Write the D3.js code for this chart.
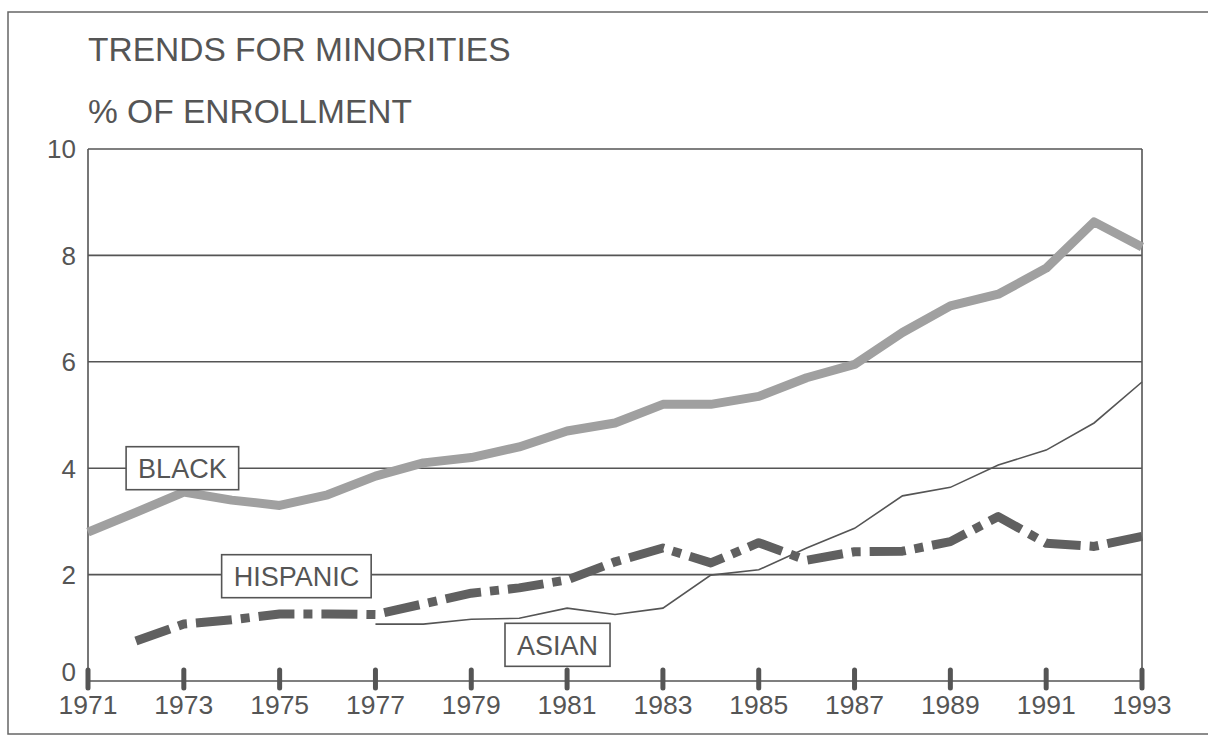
<!DOCTYPE html>
<html>
<head>
<meta charset="utf-8">
<script src="https://cdn.jsdelivr.net/npm/d3@7"></script>
<style>
  html, body { margin: 0; padding: 0; background: #fff; }
  svg { display: block; }
  text { font-family: "Liberation Sans", Arial, Helvetica, sans-serif; fill: #555; }
</style>
</head>
<body>
<svg id="chart" width="1208" height="736"></svg>
<script>
const years = [1971, 1972, 1973, 1974, 1975, 1976, 1977, 1978, 1979, 1980, 1981, 1982,
               1983, 1984, 1985, 1986, 1987, 1988, 1989, 1990, 1991, 1992, 1993];
const blackValues = [2.8, 3.17, 3.55, 3.4, 3.3, 3.5, 3.85, 4.1, 4.2, 4.4, 4.7, 4.85,
                     5.2, 5.2, 5.35, 5.7, 5.95, 6.55, 7.05, 7.27, 7.76, 8.63, 8.16];
const hispanicYears = [1972, 1973, 1974, 1975, 1976, 1977, 1978, 1979, 1980, 1981, 1982,
                       1983, 1984, 1985, 1986, 1987, 1988, 1989, 1990, 1991, 1992, 1993];
const hispanicValues = [0.75, 1.07, 1.15, 1.26, 1.26, 1.25, 1.45, 1.65, 1.75, 1.9, 2.24,
                        2.5, 2.22, 2.6, 2.27, 2.43, 2.44, 2.62, 3.09, 2.59, 2.53, 2.72];
const asianYears = [1977, 1978, 1979, 1980, 1981, 1982, 1983, 1984, 1985, 1986, 1987,
                    1988, 1989, 1990, 1991, 1992, 1993];
const asianValues = [1.07, 1.07, 1.16, 1.18, 1.37, 1.25, 1.37, 1.99, 2.09, 2.5, 2.87,
                     3.48, 3.64, 4.06, 4.34, 4.85, 5.62];
const xTickYears = [1971, 1973, 1975, 1977, 1979, 1981, 1983, 1985, 1987, 1989, 1991, 1993];
const yTickValues = [0, 2, 4, 6, 8, 10];
const titleLines = ["TRENDS FOR MINORITIES", "% OF ENROLLMENT"];
const seriesLabels = [
  { name: "BLACK", year: 1972.97, value: 4.0 },
  { name: "HISPANIC", year: 1975.35, value: 1.97 },
  { name: "ASIAN", year: 1980.8, value: 0.68 }
];

const svg = d3.select("#chart");
const ink = "#555";

const x = d3.scaleLinear().domain([1971, 1993]).range([88, 1142]);
const y = d3.scaleLinear().domain([0, 10]).range([681, 149]);

// outer frame
svg.append("rect")
  .attr("x", 8).attr("y", 12).attr("width", 1300).attr("height", 722)
  .attr("fill", "none").attr("stroke", "#666").attr("stroke-width", 1.5);

// title
svg.selectAll("text.title").data(titleLines).join("text")
  .attr("class", "title")
  .attr("x", 88)
  .attr("y", (d, i) => 61 + i * 62)
  .attr("font-size", 33.5)
  .text(d => d);

// horizontal grid lines (includes top border at 10 and axis at 0)
svg.selectAll("line.grid").data(yTickValues).join("line")
  .attr("class", "grid")
  .attr("x1", x(1971)).attr("x2", x(1993))
  .attr("y1", d => y(d)).attr("y2", d => y(d))
  .attr("stroke", ink).attr("stroke-width", 1.6);

// left and right frame of plot
[1971, 1993].forEach(yr => {
  svg.append("line")
    .attr("x1", x(yr)).attr("x2", x(yr))
    .attr("y1", y(0)).attr("y2", y(10))
    .attr("stroke", ink).attr("stroke-width", 1.6);
});

// y labels
svg.selectAll("text.ylab").data(yTickValues).join("text")
  .attr("class", "ylab")
  .attr("x", 76)
  .attr("y", d => y(d) + (d === 0 ? -9 : 0))
  .attr("dy", "0.36em")
  .attr("text-anchor", "end")
  .attr("font-size", 26)
  .text(d => d);

// x ticks
svg.selectAll("line.xtick").data(xTickYears).join("line")
  .attr("class", "xtick")
  .attr("x1", d => x(d)).attr("x2", d => x(d))
  .attr("y1", y(0) - 11).attr("y2", y(0) + 7)
  .attr("stroke", ink).attr("stroke-width", 5).attr("stroke-linecap", "round");

// x labels
svg.selectAll("text.xlab").data(xTickYears).join("text")
  .attr("class", "xlab")
  .attr("x", d => x(d))
  .attr("y", 714)
  .attr("text-anchor", "middle")
  .attr("font-size", 26.5)
  .text(d => d);

const line = d3.line().x(d => x(d[0])).y(d => y(d[1]));

// Asian: thin line
svg.append("path")
  .datum(d3.zip(asianYears, asianValues))
  .attr("d", line)
  .attr("fill", "none").attr("stroke", "#555").attr("stroke-width", 1.6);

// Black: thick light gray
svg.append("path")
  .datum(d3.zip(years, blackValues))
  .attr("d", line)
  .attr("fill", "none").attr("stroke", "#a0a0a0").attr("stroke-width", 9)
  .attr("stroke-linejoin", "round");

// Hispanic: thick dash-dot
svg.append("path")
  .datum(d3.zip(hispanicYears, hispanicValues))
  .attr("d", line)
  .attr("fill", "none").attr("stroke", "#606060").attr("stroke-width", 9)
  .attr("stroke-dasharray", "36,9,9,9")
  .attr("stroke-linejoin", "round");

// series label boxes
const lab = svg.selectAll("g.lab").data(seriesLabels).join("g")
  .attr("class", "lab")
  .attr("transform", d => `translate(${x(d.year)},${y(d.value)})`);
lab.append("text")
  .attr("text-anchor", "middle")
  .attr("dy", "0.36em")
  .attr("font-size", 27)
  .text(d => d.name);
lab.each(function() {
  const g = d3.select(this);
  const bb = g.select("text").node().getBBox();
  g.insert("rect", "text")
    .attr("x", bb.x - 12).attr("y", -21.5)
    .attr("width", bb.width + 24).attr("height", 43)
    .attr("fill", "#fff").attr("stroke", ink).attr("stroke-width", 1.6);
});
</script>
</body>
</html>
